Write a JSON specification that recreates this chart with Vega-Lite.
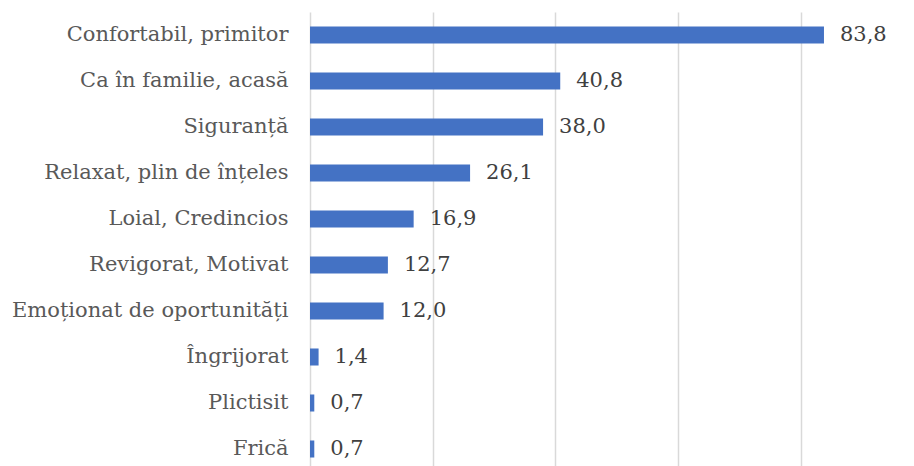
{
  "$schema": "https://vega.github.io/schema/vega-lite/v6.json",
  "autosize": {"type": "none"},
  "padding": {"left": 310, "top": 12, "right": 52, "bottom": 0},
  "width": 552,
  "height": 460,
  "background": "white",
  "data": {"values": [
    {"label": "Confortabil, primitor", "value": 83.8, "text": "83,8"},
    {"label": "Ca în familie, acasă", "value": 40.8, "text": "40,8"},
    {"label": "Siguranță", "value": 38.0, "text": "38,0"},
    {"label": "Relaxat, plin de înțeles", "value": 26.1, "text": "26,1"},
    {"label": "Loial, Credincios", "value": 16.9, "text": "16,9"},
    {"label": "Revigorat, Motivat", "value": 12.7, "text": "12,7"},
    {"label": "Emoționat de oportunități", "value": 12.0, "text": "12,0"},
    {"label": "Îngrijorat", "value": 1.4, "text": "1,4"},
    {"label": "Plictisit", "value": 0.7, "text": "0,7"},
    {"label": "Frică", "value": 0.7, "text": "0,7"}
  ]},
  "config": {"view": {"stroke": null}, "font": "DejaVu Serif"},
  "encoding": {
    "y": {"field": "label", "type": "nominal", "sort": null, "title": null,
      "scale": {"paddingInner": 0.63, "paddingOuter": 0.315},
      "axis": {"domain": false, "ticks": false, "labelPadding": 22, "labelFontSize": 21, "labelColor": "#595959", "labelFont": "DejaVu Serif", "labelLimit": 400}},
    "x": {"field": "value", "type": "quantitative", "title": null,
      "scale": {"domain": [0, 90], "nice": false},
      "axis": {"values": [0, 20, 40, 60, 80], "labels": false, "ticks": false, "domain": false, "grid": true, "gridColor": "#d9d9d9", "gridWidth": 1.5}}
  },
  "layer": [
    {"mark": {"type": "bar", "color": "#4472c4"}},
    {"mark": {"type": "text", "align": "left", "baseline": "middle", "dx": 16, "fontSize": 21, "color": "#404040", "font": "DejaVu Serif"},
     "encoding": {"text": {"field": "text"}}}
  ]
}
